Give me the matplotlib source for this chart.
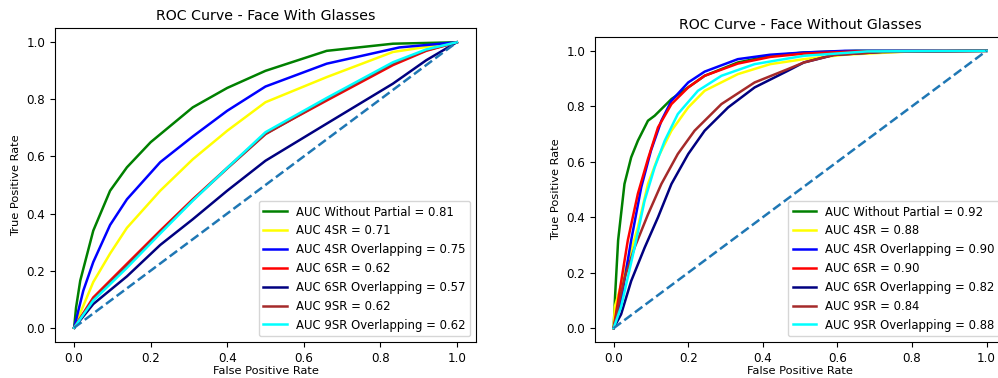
import matplotlib.pyplot as plt
import numpy as np

# ---- Face With Glasses ----
g_labels = ["AUC Without Partial = 0.81", "AUC 4SR = 0.71", "AUC 4SR Overlapping = 0.75",
            "AUC 6SR = 0.62", "AUC 6SR Overlapping = 0.57", "AUC 9SR = 0.62",
            "AUC 9SR Overlapping = 0.62"]
colors = ["green", "yellow", "blue", "red", "navy", "brown", "cyan"]

g_wo_fpr = [0, 0.005, 0.016, 0.05, 0.094, 0.138, 0.2, 0.31, 0.4, 0.5, 0.66, 0.833, 1]
g_wo_tpr = [0, 0.07, 0.165, 0.34, 0.48, 0.562, 0.65, 0.772, 0.84, 0.90, 0.97, 0.995, 1]
g_4sr_fpr = [0, 0.05, 0.094, 0.138, 0.225, 0.31, 0.4, 0.5, 0.66, 0.833, 1]
g_4sr_tpr = [0, 0.16, 0.26, 0.35, 0.48, 0.59, 0.69, 0.79, 0.878, 0.966, 1]
g_4ov_fpr = [0, 0.024, 0.05, 0.094, 0.138, 0.225, 0.31, 0.4, 0.5, 0.66, 0.85, 1]
g_4ov_tpr = [0, 0.13, 0.23, 0.36, 0.45, 0.58, 0.67, 0.76, 0.845, 0.925, 0.982, 1]
g_6sr_fpr = [0, 0.05, 0.138, 0.225, 0.31, 0.4, 0.5, 0.66, 0.833, 0.92, 1]
g_6sr_tpr = [0, 0.106, 0.224, 0.34, 0.45, 0.56, 0.68, 0.796, 0.92, 0.97, 1]
g_6ov_fpr = [0, 0.05, 0.138, 0.225, 0.31, 0.4, 0.5, 0.66, 0.833, 0.92, 1]
g_6ov_tpr = [0, 0.083, 0.18, 0.29, 0.38, 0.48, 0.585, 0.715, 0.855, 0.937, 1]
g_9sr_fpr = [0, 0.05, 0.138, 0.225, 0.31, 0.4, 0.5, 0.66, 0.833, 0.92, 1]
g_9sr_tpr = [0, 0.10, 0.218, 0.335, 0.447, 0.558, 0.678, 0.80, 0.925, 0.972, 1]
g_9ov_fpr = [0, 0.05, 0.138, 0.225, 0.31, 0.4, 0.5, 0.66, 0.833, 0.92, 1]
g_9ov_tpr = [0, 0.095, 0.21, 0.33, 0.445, 0.56, 0.685, 0.805, 0.93, 0.975, 1]

# ---- Face Without Glasses ----
n_labels = ["AUC Without Partial = 0.92", "AUC 4SR = 0.88", "AUC 4SR Overlapping = 0.90",
            "AUC 6SR = 0.90", "AUC 6SR Overlapping = 0.82", "AUC 9SR = 0.84",
            "AUC 9SR Overlapping = 0.88"]

n_wo_fpr = [0, 0.004, 0.012, 0.029, 0.047, 0.065, 0.092, 0.11, 0.155, 0.244, 0.333, 0.42, 0.51, 0.65, 1]
n_wo_tpr = [0, 0.12, 0.317, 0.52, 0.616, 0.676, 0.748, 0.766, 0.826, 0.91, 0.958, 0.982, 0.994, 1.0, 1]
n_4sr_fpr = [0, 0.003, 0.029, 0.065, 0.092, 0.119, 0.155, 0.2, 0.244, 0.333, 0.42, 0.51, 0.62, 0.8, 1]
n_4sr_tpr = [0, 0.077, 0.197, 0.364, 0.52, 0.616, 0.712, 0.796, 0.856, 0.916, 0.952, 0.97, 0.986, 0.998, 1]
n_4ov_fpr = [0, 0.02, 0.047, 0.074, 0.1, 0.128, 0.155, 0.2, 0.244, 0.333, 0.42, 0.51, 0.62, 1]
n_4ov_tpr = [0, 0.10, 0.317, 0.508, 0.64, 0.748, 0.82, 0.886, 0.925, 0.97, 0.986, 0.994, 1.0, 1]
n_6sr_fpr = [0, 0.012, 0.038, 0.065, 0.092, 0.119, 0.155, 0.2, 0.244, 0.333, 0.42, 0.51, 0.65, 1]
n_6sr_tpr = [0, 0.10, 0.317, 0.485, 0.61, 0.724, 0.808, 0.868, 0.91, 0.954, 0.978, 0.99, 0.998, 1]
n_6ov_fpr = [0, 0.02, 0.047, 0.083, 0.119, 0.155, 0.2, 0.244, 0.307, 0.378, 0.467, 0.51, 0.59, 0.72, 1]
n_6ov_tpr = [0, 0.05, 0.17, 0.29, 0.40, 0.52, 0.628, 0.712, 0.796, 0.868, 0.928, 0.958, 0.985, 0.996, 1]
n_9sr_fpr = [0, 0.012, 0.029, 0.056, 0.092, 0.128, 0.172, 0.217, 0.289, 0.378, 0.467, 0.51, 0.59, 0.72, 1]
n_9sr_tpr = [0, 0.077, 0.18, 0.29, 0.41, 0.52, 0.628, 0.712, 0.808, 0.886, 0.934, 0.958, 0.985, 0.996, 1]
n_9ov_fpr = [0, 0.02, 0.056, 0.083, 0.11, 0.137, 0.172, 0.226, 0.289, 0.378, 0.51, 0.68, 1]
n_9ov_tpr = [0, 0.077, 0.29, 0.46, 0.58, 0.676, 0.772, 0.856, 0.91, 0.952, 0.982, 0.998, 1]

glasses = [(g_wo_fpr, g_wo_tpr), (g_4sr_fpr, g_4sr_tpr), (g_4ov_fpr, g_4ov_tpr),
           (g_6sr_fpr, g_6sr_tpr), (g_6ov_fpr, g_6ov_tpr), (g_9sr_fpr, g_9sr_tpr),
           (g_9ov_fpr, g_9ov_tpr)]
no_glasses = [(n_wo_fpr, n_wo_tpr), (n_4sr_fpr, n_4sr_tpr), (n_4ov_fpr, n_4ov_tpr),
              (n_6sr_fpr, n_6sr_tpr), (n_6ov_fpr, n_6ov_tpr), (n_9sr_fpr, n_9sr_tpr),
              (n_9ov_fpr, n_9ov_tpr)]

fig = plt.figure(figsize=(9.98, 3.78), dpi=100)
ax1 = fig.add_axes([0.0551, 0.0952, 0.4218, 0.8307])
ax2 = fig.add_axes([0.5962, 0.0952, 0.411, 0.807])


def draw(ax, curves, labels, title, fs):
    for (x, y), lab, c in zip(curves, labels, colors):
        ax.plot(x, y, color=c, lw=1.8, label=lab)
    ax.plot([0, 1], [0, 1], linestyle='--', lw=1.8)
    ax.set_title(title, fontsize=10.2)
    ax.set_xlabel("False Positive Rate", fontsize=8.2, labelpad=1)
    ax.set_ylabel("True Positive Rate", fontsize=8.2)
    ax.tick_params(labelsize=8.6)
    ax.legend(loc="lower right", fontsize=fs)


draw(ax1, glasses, g_labels, "ROC Curve - Face With Glasses", 8.4)
draw(ax2, no_glasses, n_labels, "ROC Curve - Face Without Glasses", 8.4)

fig.savefig("out.png", dpi=100)
